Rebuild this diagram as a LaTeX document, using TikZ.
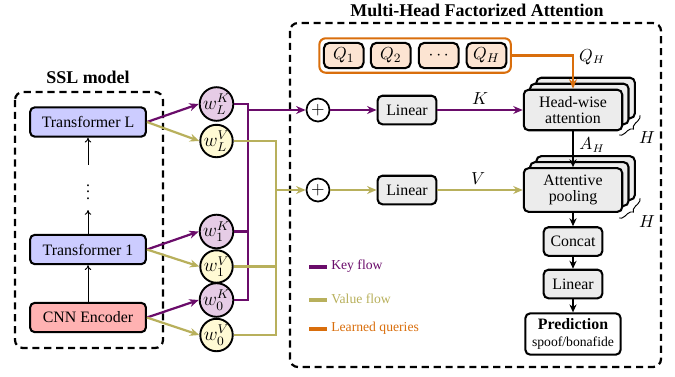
\documentclass[tikz,border=0pt]{standalone}
\usepackage{fontspec}
\setmainfont{Liberation Serif}
\usetikzlibrary{arrows.meta,decorations.pathreplacing,fit}

\definecolor{keyc}{RGB}{106,12,106}
\definecolor{valc}{RGB}{184,176,92}
\definecolor{qc}{RGB}{217,110,12}
\definecolor{tfill}{RGB}{204,204,255}
\definecolor{cfill}{RGB}{255,178,178}
\definecolor{kfill}{RGB}{230,204,230}
\definecolor{vfill}{RGB}{255,250,212}
\definecolor{qfill}{RGB}{252,228,210}
\definecolor{gfill}{RGB}{236,236,236}

\begin{document}
\begin{tikzpicture}[x=0.63pt,y=-0.63pt,
  font=\fontsize{10}{11.5}\selectfont,
  box/.style={draw, line width=1.3pt, rounded corners=3pt, align=center, inner sep=1pt},
  tbox/.style={box, fill=tfill, minimum width=73pt, minimum height=18.5pt},
  cbox/.style={box, fill=cfill, minimum width=73pt, minimum height=18.5pt},
  gbox/.style={box, fill=gfill, minimum width=37pt, minimum height=18pt},
  stackbox/.style={box, fill=gfill, minimum width=62pt, font=\fontsize{10}{10.5}\selectfont},
  qbox/.style={box, fill=qfill, minimum width=25pt, minimum height=16pt, rounded corners=3.5pt, font=\fontsize{11}{12}\selectfont},
  wcirc/.style={circle, draw, line width=1.2pt, minimum size=17.6pt, inner sep=0pt, font=\fontsize{11.5}{12}\selectfont},
  kcirc/.style={wcirc, fill=kfill},
  vcirc/.style={wcirc, fill=vfill},
  pluscirc/.style={circle, draw, line width=1.1pt, fill=white, minimum size=14.5pt, inner sep=0pt, font=\fontsize{11}{12}\selectfont},
  dbox/.style={draw, line width=1.4pt, dash pattern=on 4.5pt off 3pt, rounded corners=5pt},
  title/.style={font=\fontsize{11.3}{13}\selectfont\bfseries},
  keyline/.style={draw=keyc, line width=1.4pt},
  valline/.style={draw=valc, line width=1.4pt},
  keyarr/.style={keyline, -{Stealth[length=6pt,width=5pt]}},
  valarr/.style={valline, -{Stealth[length=6pt,width=5pt]}},
  qarr/.style={draw=qc, line width=1.4pt, -{Stealth[length=6pt,width=5pt]}},
  sarr/.style={draw, line width=0.6pt, -{To[length=3pt,width=4pt]}},
  barr/.style={draw, line width=1.1pt, -{Stealth[length=5pt,width=4.5pt]}},
  lbl/.style={font=\fontsize{10.5}{11}\selectfont},
  legtext/.style={anchor=west, font=\fontsize{8.6}{10}\selectfont, inner sep=0pt},
  hbrace/.style={draw, line width=0.6pt, decorate, decoration={brace, amplitude=3.5pt}}
]
\useasboundingbox (0,0) rectangle (675,376);

% ---------- SSL model ----------
\draw[dbox] (15,92) rectangle (163,348);
\node[title] (sslt) at (88,77) {SSL model};

\node[tbox] (TL) at (88,122) {Transformer L};
\node[tbox] (T1) at (88,249.5) {Transformer 1};
\node[cbox] (CNN) at (88,317.5) {CNN Encoder};
\node[minimum height=28pt, inner sep=0pt] (dots) at (88,187.5) {$\vdots$};

\draw[sarr] (CNN.north) -- (T1.south);
\draw[sarr] (T1.north) -- (dots.south);
\draw[sarr] (dots.north) -- (TL.south);

% ---------- layer weights ----------
\node[kcirc] (wLK) at (216.5,104) {$w^{K}_{L}$};
\node[vcirc] (wLV) at (216.5,141) {$w^{V}_{L}$};
\node[kcirc] (w1K) at (216.5,231.5) {$w^{K}_{1}$};
\node[vcirc] (w1V) at (216.5,266.5) {$w^{V}_{1}$};
\node[kcirc] (w0K) at (216.5,300) {$w^{K}_{0}$};
\node[vcirc] (w0V) at (216.5,335) {$w^{V}_{0}$};

\draw[keyarr] (TL.east) -- (wLK.west);
\draw[valarr] (TL.east) -- (wLV.west);
\draw[keyarr] (T1.east) -- (w1K.west);
\draw[valarr] (T1.east) -- (w1V.west);
\draw[keyarr] (CNN.east) -- (w0K.west);
\draw[valarr] (CNN.east) -- (w0V.west);

% buses collecting the weighted layers
\coordinate (kbx) at (248,0);
\coordinate (vbx) at (276,0);

% ---------- Multi-head factorized attention ----------
\draw[dbox] (290,23) rectangle (661,367);
\node[title] (mhfat) at (477,10) {Multi-Head Factorized Attention};

\node[pluscirc] (pK) at (318,110) {$+$};
\node[pluscirc] (pV) at (318,190) {$+$};

\draw[keyline] (wLK.east) -- (wLK.east -| kbx) -- (w0K.east -| kbx) -- (w0K.east);
\draw[keyline] (w1K.east) -- (w1K.east -| kbx);
\draw[keyarr] (pK.west -| kbx) -- (pK.west);

\draw[valline] (wLV.east) -- (wLV.east -| vbx) -- (w0V.east -| vbx) -- (w0V.east);
\draw[valline] (w1V.east) -- (w1V.east -| vbx);
\draw[valarr] (pV.west -| vbx) -- (pV.west);

\node[gbox] (linK) at (407,110) {Linear};
\node[gbox] (linV) at (407,190) {Linear};

% learned queries
\node[qbox] (Q1) at (343.7,55.5) {$Q_1$};
\node[qbox] (Q2) at (390.8,55.5) {$Q_2$};
\node[qbox] (Qd) at (438.7,55.5) {$\cdots$};
\node[qbox] (QH) at (486.5,55.5) {$Q_H$};
\node[draw=qc, line width=1.3pt, rounded corners=4pt, inner sep=2.2pt, fit=(Q1)(QH)] (qframe) {};

% head-wise attention stack
\node[stackbox, minimum height=25.5pt] (hwB) at (585.6,98) {};
\node[stackbox, minimum height=25.5pt] (hwA) at (579.3,104) {};
\node[stackbox, minimum height=25.5pt] (hw) at (573,110) {Head-wise\\attention};

% attentive pooling stack
\node[stackbox, minimum height=27.5pt] (apB) at (585.6,178) {};
\node[stackbox, minimum height=27.5pt] (apA) at (579.3,184) {};
\node[stackbox, minimum height=27.5pt] (ap) at (573,190) {Attentive\\pooling};

\node[gbox] (cat) at (573,241.5) {Concat};
\node[gbox] (lin2) at (573,284) {Linear};
\node[box, minimum width=60pt, minimum height=26pt, inner sep=1.5pt] (pred) at (573,334)
  {\textbf{Prediction}\\[-1pt]{\fontsize{8.6}{10}\selectfont spoof/bonafide}};

\draw[keyarr] (pK.east) -- (linK.west);
\draw[keyarr] (linK.east) -- (hw.west);
\draw[valarr] (pV.east) -- (linV.west);
\draw[valarr] (linV.east) -- (ap.west);
\draw[qarr] (qframe.east) -| (hw.north);

\draw[barr] (hw.south) -- (ap.north);
\draw[barr] (ap.south) -- (cat.north);
\draw[barr] (cat.south) -- (lin2.north);
\draw[barr] (lin2.south) -- (pred.north);

\node[lbl] (lK) at (480,99) {$K$};
\node[lbl] (lV) at (478,179) {$V$};
\node[lbl] (lQ) at (592,57) {$Q_H$};
\node[lbl] (lA) at (592,145) {$A_H$};

% head count braces
\draw[hbrace] (640,115) -- (619,135);
\node[lbl] (hH1) at (647,137.5) {$H$};
\draw[hbrace] (640,198) -- (619,218);
\node[lbl] (hH2) at (647,221.5) {$H$};

% legend
\coordinate (lg1a) at (309,267);
\coordinate (lg1b) at (327,267);
\coordinate (lg2a) at (309,300);
\coordinate (lg2b) at (327,300);
\coordinate (lg3a) at (309,329);
\coordinate (lg3b) at (327,329);
\draw[draw=keyc, line width=2.6pt] (lg1a) -- (lg1b);
\draw[draw=valc, line width=2.6pt] (lg2a) -- (lg2b);
\draw[draw=qc, line width=2.6pt] (lg3a) -- (lg3b);
\node[legtext, text=keyc] (tk) at (331,266) {Key flow};
\node[legtext, text=valc] (tv) at (331,299) {Value flow};
\node[legtext, text=qc] (tq) at (331,328) {Learned queries};
\end{tikzpicture}
\end{document}
